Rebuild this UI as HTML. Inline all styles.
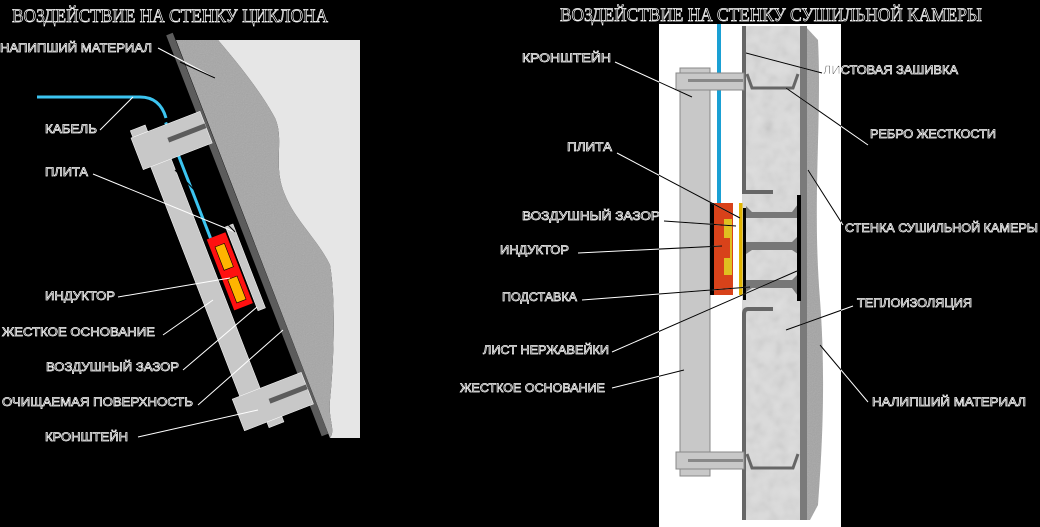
<!DOCTYPE html>
<html><head><meta charset="utf-8"><style>
html,body{margin:0;padding:0;background:#000;}
svg{display:block}
.t{font-family:"Liberation Sans",sans-serif;font-size:12px;fill:#000;stroke:#fff;stroke-width:0.7px;}
.h{font-family:"Liberation Serif",serif;font-size:19px;fill:#000;stroke:#fff;stroke-width:0.7px;}
.lw{stroke:#fff;stroke-width:1;fill:none}
.lb{stroke:#000;stroke-width:1;fill:none}
</style></head><body>
<svg width="1040" height="527" viewBox="0 0 1040 527" xmlns="http://www.w3.org/2000/svg">
<defs>
<clipPath id="wc"><rect x="659" y="24" width="182" height="503"/></clipPath>
<filter id="noise"><feTurbulence type="fractalNoise" baseFrequency="0.9" numOctaves="1" result="n"/><feColorMatrix type="saturate" values="0"/><feComponentTransfer><feFuncA type="linear" slope="0.25"/></feComponentTransfer><feComposite in2="SourceGraphic" operator="in"/></filter>
<filter id="blot"><feTurbulence type="fractalNoise" baseFrequency="0.08" numOctaves="2"/><feColorMatrix type="saturate" values="0"/><feComponentTransfer><feFuncA type="linear" slope="0.3"/></feComponentTransfer><feComposite in2="SourceGraphic" operator="in"/></filter>
</defs>
<rect width="1040" height="527" fill="#000"/>

<!-- LEFT PANEL -->
<path d="M218,40 C235,60 260,90 275,118 C285,140 272,165 285,195 C295,220 318,240 330,265 C336,300 334,360 330,400 C328,420 336,430 330,438 L360,438 L360,40 Z" fill="#e6e6e6"/>
<path d="M176,40 L218,40 C235,60 260,90 275,118 C285,140 272,165 285,195 C295,220 318,240 330,265 C336,300 334,360 330,400 C328,420 336,430 330,438 L330,438 L176,40 Z" fill="#a6a6a6"/>
<path d="M176,40 L218,40 C235,60 260,90 275,118 C285,140 272,165 285,195 C295,220 318,240 330,265 C336,300 334,360 330,400 C328,420 336,430 330,438 L176,40 Z" fill="#a6a6a6" filter="url(#noise)"/>
<path d="M37,97 L140,97 Q160,97 166,118" stroke="#3cc4f0" stroke-width="3" fill="none"/>
<g transform="translate(168,40) rotate(-21.2)">
  <rect x="0" y="-5" width="7" height="430" fill="#5c5c5c"/>
  <rect x="-62" y="100" width="22" height="280" fill="#c8c8c8" stroke="#fff" stroke-width="0.5"/>
  <rect x="-33.5" y="76" width="3" height="124" fill="#3cc4f0"/>
  <rect x="-70" y="78" width="74" height="34" fill="#c8c8c8" stroke="#fff" stroke-width="0.5"/>
  <rect x="-68" y="71" width="16" height="7" fill="#c8c8c8" stroke="#fff" stroke-width="0.5"/>
  <rect x="-36" y="91" width="40" height="5" fill="#5c5c5c"/>
  <rect x="-70" y="358" width="74" height="34" fill="#c8c8c8" stroke="#fff" stroke-width="0.5"/>
  <rect x="-46" y="392" width="16" height="6" fill="#c8c8c8" stroke="#fff" stroke-width="0.5"/>
  <rect x="-36" y="371" width="40" height="5" fill="#5c5c5c"/>
  <rect x="-14" y="195" width="8" height="90" fill="#c8c8c8" stroke="#fff" stroke-width="0.5"/>
  <rect x="-38" y="200" width="2.5" height="76" fill="#000"/>
  <rect x="-36" y="200" width="20" height="76" fill="#ff1010"/>
  <rect x="-31" y="210" width="10" height="25" fill="#ffb400" stroke="#000" stroke-width="0.6"/>
  <rect x="-31" y="245" width="10" height="25" fill="#ffb400" stroke="#000" stroke-width="0.6"/>
</g>
<text class="h" x="12" y="22" textLength="316" lengthAdjust="spacingAndGlyphs">ВОЗДЕЙСТВИЕ НА СТЕНКУ ЦИКЛОНА</text>
<g class="t">
<text x="0" y="52" textLength="152" lengthAdjust="spacingAndGlyphs">НАПИПШИЙ МАТЕРИАЛ</text>
<text x="45" y="133" textLength="52" lengthAdjust="spacingAndGlyphs">КАБЕЛЬ</text>
<text x="45" y="176" textLength="43" lengthAdjust="spacingAndGlyphs">ПЛИТА</text>
<text x="45" y="300" textLength="70" lengthAdjust="spacingAndGlyphs">ИНДУКТОР</text>
<text x="2" y="336" textLength="153" lengthAdjust="spacingAndGlyphs">ЖЕСТКОЕ ОСНОВАНИЕ</text>
<text x="46" y="371" textLength="133" lengthAdjust="spacingAndGlyphs">ВОЗДУШНЫЙ ЗАЗОР</text>
<text x="2" y="406" textLength="191" lengthAdjust="spacingAndGlyphs">ОЧИЩАЕМАЯ ПОВЕРХНОСТЬ</text>
<text x="45" y="441" textLength="83" lengthAdjust="spacingAndGlyphs">КРОНШТЕЙН</text>
</g>
<g class="lw">
<path d="M158,48 L215,78"/><path d="M100,130 L133,97"/><path d="M93,174 L235,232"/>
<path d="M118,297 L230,278"/><path d="M163,335 L213,300"/><path d="M183,370 L257,307"/>
<path d="M198,405 L283,330"/><path d="M138,437 L258,410"/>
</g>
<g class="lb"><path d="M180,62 L215,78"/><path d="M175,170 L235,232"/></g>

<!-- RIGHT PANEL -->
<rect x="659" y="24" width="182" height="503" fill="#fff"/>
<path d="M805,26 L818,40 C822,120 812,200 820,300 C826,380 822,450 818,505 L810,520 L805,520 Z" fill="#a4a4a4"/>
<path d="M805,26 L818,40 C822,120 812,200 820,300 C826,380 822,450 818,505 L810,520 L805,520 Z" fill="#a4a4a4" filter="url(#noise)"/>
<rect x="742" y="26" width="65" height="494" fill="#dcdcdc"/>
<rect x="742" y="26" width="65" height="494" fill="#dcdcdc" filter="url(#blot)"/>
<rect x="800" y="26" width="7" height="494" fill="#7a7a7a"/>
<path d="M744,26 L744,192 L773,192" stroke="#666" stroke-width="4" fill="none"/>
<path d="M773,309 L748,309 Q744,309 744,314 L744,520" stroke="#666" stroke-width="4" fill="none"/>
<path d="M747,74 L752,88 L793,88 L798,74" stroke="#666" stroke-width="3" fill="none"/>
<path d="M747,454 L752,468 L793,468 L798,454" stroke="#666" stroke-width="3" fill="none"/>
<g fill="#777">
<path d="M746,206 L752,212 L792,212 L798,204 L798,218 L746,218 Z"/>
<path d="M746,242 L792,242 L798,236 L798,254 L792,250 L752,250 L746,254 Z"/>
<path d="M746,280 L792,280 L798,274 L798,296 L792,288 L752,288 L746,292 Z"/>
</g>
<rect x="797" y="195" width="4" height="106" fill="#000"/>
<rect x="743" y="208" width="3" height="92" fill="#000"/>
<rect x="739" y="203" width="3.5" height="92" fill="#e0b400"/>
<rect x="680" y="68" width="30" height="408" fill="#c8c8c8" stroke="#888" stroke-width="1"/>
<rect x="717" y="24" width="4" height="180" fill="#1aa0d4"/>
<rect x="676" y="73" width="68" height="17" fill="#c8c8c8" stroke="#888" stroke-width="1"/>
<rect x="688" y="79" width="55" height="3" fill="#888"/>
<rect x="676" y="452" width="68" height="17" fill="#c8c8c8" stroke="#888" stroke-width="1"/>
<rect x="688" y="459" width="55" height="3" fill="#888"/>
<rect x="710" y="203" width="23" height="92" fill="#d8421a"/>
<rect x="710" y="203" width="4" height="92" fill="#000"/>
<rect x="724" y="219" width="8" height="56" fill="#e0c020"/>
<rect x="724" y="238" width="6" height="20" fill="#d8421a"/>

<text class="h" x="560" y="21" textLength="422" lengthAdjust="spacingAndGlyphs">ВОЗДЕЙСТВИЕ НА СТЕНКУ СУШИЛЬНОЙ КАМЕРЫ</text>
<g class="t">
<text x="522" y="62" textLength="89" lengthAdjust="spacingAndGlyphs">КРОНШТЕЙН</text>
<text x="823" y="74" textLength="135" lengthAdjust="spacingAndGlyphs">ЛИСТОВАЯ ЗАШИВКА</text>
<text x="870" y="138" textLength="126" lengthAdjust="spacingAndGlyphs">РЕБРО ЖЕСТКОСТИ</text>
<text x="567" y="151" textLength="45" lengthAdjust="spacingAndGlyphs">ПЛИТА</text>
<text x="522" y="220" textLength="138" lengthAdjust="spacingAndGlyphs">ВОЗДУШНЫЙ ЗАЗОР</text>
<text x="500" y="254" textLength="69" lengthAdjust="spacingAndGlyphs">ИНДУКТОР</text>
<text x="502" y="301" textLength="75" lengthAdjust="spacingAndGlyphs">ПОДСТАВКА</text>
<text x="483" y="354" textLength="126" lengthAdjust="spacingAndGlyphs">ЛИСТ НЕРЖАВЕЙКИ</text>
<text x="460" y="392" textLength="145" lengthAdjust="spacingAndGlyphs">ЖЕСТКОЕ ОСНОВАНИЕ</text>
<text x="845" y="232" textLength="193" lengthAdjust="spacingAndGlyphs">СТЕНКА СУШИЛЬНОЙ КАМЕРЫ</text>
<text x="857" y="307" textLength="115" lengthAdjust="spacingAndGlyphs">ТЕПЛОИЗОЛЯЦИЯ</text>
<text x="872" y="406" textLength="154" lengthAdjust="spacingAndGlyphs">НАЛИПШИЙ МАТЕРИАЛ</text>
</g>
<g id="rl">
<path d="M615,62 L692,97"/><path d="M746,53 L822,73"/><path d="M786,88 L868,145"/>
<path d="M617,153 L740,218"/><path d="M664,221 L736,226"/><path d="M578,253 L722,246"/>
<path d="M582,300 L750,287"/><path d="M612,352 L797,271"/><path d="M612,388 L684,370"/>
<path d="M808,170 L843,225"/><path d="M786,330 L853,306"/><path d="M820,345 L868,402"/>
</g>
<use href="#rl" class="lw"/>
<use href="#rl" class="lb" clip-path="url(#wc)"/>
</svg>
</body></html>
